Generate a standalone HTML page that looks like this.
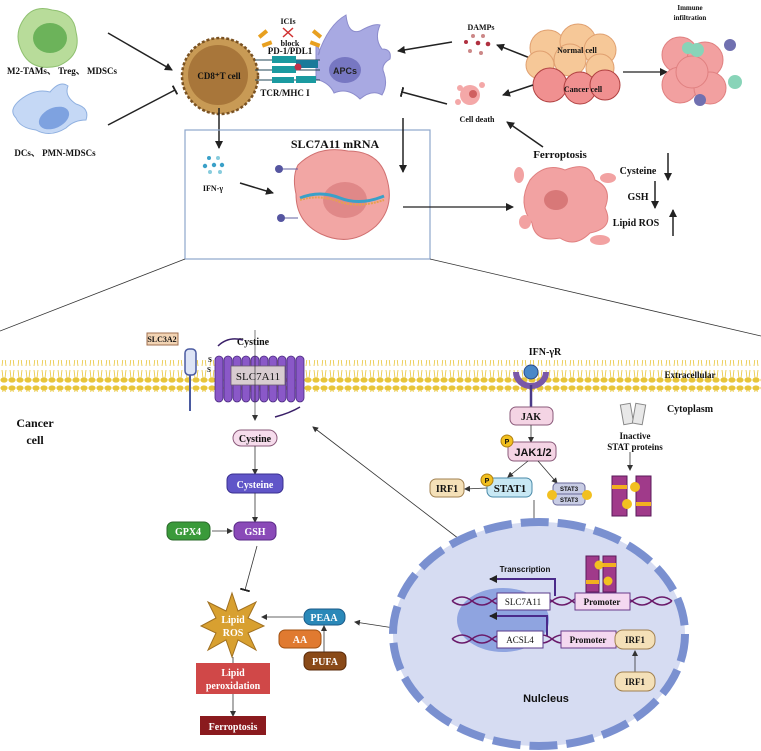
<!DOCTYPE html>
<html><head><meta charset="utf-8"><style>
html,body{margin:0;padding:0;background:#fff}
svg{display:block}
text{font-family:"Liberation Serif",serif;font-weight:bold;fill:#111}
.s{font-family:"Liberation Sans",sans-serif}
</style></head><body>
<svg width="761" height="751" viewBox="0 0 761 751" xmlns="http://www.w3.org/2000/svg">
<defs>
<marker id="a" markerWidth="8" markerHeight="8" refX="7" refY="4" orient="auto" markerUnits="userSpaceOnUse"><path d="M0,0L8,4L0,8z" fill="#222"/></marker>
<marker id="as" markerWidth="6" markerHeight="6" refX="5" refY="3" orient="auto" markerUnits="userSpaceOnUse"><path d="M0,0L6,3L0,6z" fill="#333"/></marker>
<marker id="t" markerWidth="2" markerHeight="10" refX="1" refY="5" orient="auto" markerUnits="userSpaceOnUse"><rect width="2" height="10" fill="#222"/></marker>
<pattern id="mem" x="0" y="0" width="8" height="32" patternUnits="userSpaceOnUse">
<ellipse cx="4" cy="4" rx="3.6" ry="2.6" fill="#e8c53a"/>
<ellipse cx="4" cy="28" rx="3.6" ry="2.6" fill="#e8c53a"/>
<path d="M3,6 L2,14 M5,6 L6,14 M3,26 L2,18 M5,26 L6,18" stroke="#e8c53a" stroke-width="0.8"/>
</pattern>
</defs>

<!-- TOP SECTION -->
<!-- M2 cell -->
<path d="M22,22 q10,-18 30,-12 q22,2 24,22 q6,24 -18,34 q-26,6 -36,-14 q-8,-16 0,-30z" fill="#b8dc9a" stroke="#8fc070"/>
<ellipse cx="50" cy="38" rx="17" ry="15" fill="#6cb35a"/>
<text x="62" y="74" font-size="9" text-anchor="middle">M2-TAMs、 Treg、 MDSCs</text>
<!-- DC cell -->
<path d="M20,100 q15,-12 30,-8 q10,-12 18,-6 q-4,10 8,18 q14,4 10,16 q-12,0 -20,8 q-16,10 -30,2 q-16,-2 -20,-12 q-8,-8 4,-18z" fill="#c5d8f5" stroke="#8fb0e0"/>
<ellipse cx="54" cy="118" rx="16" ry="10" fill="#7ea2e0" transform="rotate(-25 54 118)"/>
<text x="55" y="156" font-size="9" text-anchor="middle">DCs、 PMN-MDSCs</text>
<line x1="108" y1="33" x2="172" y2="70" stroke="#222" stroke-width="1.5" marker-end="url(#a)"/>
<line x1="108" y1="125" x2="175" y2="90" stroke="#222" stroke-width="1.5" marker-end="url(#t)"/>
<!-- CD8 T -->
<circle cx="220" cy="76" r="38" fill="#c89a55" stroke="#7a5222" stroke-width="2.5" stroke-dasharray="3 2"/>
<circle cx="218" cy="75" r="30" fill="#a8763a"/>
<text x="219" y="79" font-size="9" text-anchor="middle" fill="#fff">CD8⁺T cell</text>
<!-- APCs -->
<path d="M318,55 q10,-30 28,-40 q2,20 14,16 q14,-8 20,-6 q-6,14 2,24 q10,0 8,10 q-10,6 -6,14 q4,12 -2,22 q-10,-6 -22,4 q-12,-12 -26,-6 q-4,-10 -18,-14 l0,-34 q6,6 2,10z" fill="#a8a9e2" stroke="#8c8ccc"/>
<ellipse cx="345" cy="70" rx="16" ry="13" fill="#7777c2"/>
<text x="345" y="74" font-size="9" text-anchor="middle" class="s" fill="#fff" style="fill:#222">APCs</text>
<!-- receptors -->
<line x1="255" y1="60" x2="320" y2="60" stroke="#245" stroke-width="1"/>
<line x1="255" y1="70" x2="320" y2="70" stroke="#245" stroke-width="1"/>
<line x1="255" y1="80" x2="320" y2="80" stroke="#245" stroke-width="1"/>
<rect x="272" y="56" width="24" height="7" fill="#1a9aa0"/><rect x="272" y="66" width="24" height="7" fill="#1a9aa0"/>
<rect x="296" y="60" width="22" height="8" fill="#1a7a9a"/><circle cx="298" cy="67" r="3.5" fill="#c0304a"/>
<rect x="272" y="77" width="22" height="6" fill="#1a9aa0"/><rect x="296" y="76" width="20" height="7" fill="#1a9aa0"/>
<text x="290" y="54" font-size="9" text-anchor="middle">PD-1/PDL1</text>
<text x="285" y="96" font-size="9" text-anchor="middle">TCR/MHC I</text>
<text x="288" y="24" font-size="8" text-anchor="middle">ICIs</text>
<path d="M283,28 l10,9 M293,28 l-10,9" stroke="#d03030" stroke-width="1.5"/>
<text x="290" y="46" font-size="8" text-anchor="middle">block</text>
<g fill="#e8a020"><rect x="258" y="32" width="10" height="4" transform="rotate(-40 263 34)"/><rect x="262" y="42" width="10" height="4" transform="rotate(-20 267 44)"/><rect x="312" y="32" width="10" height="4" transform="rotate(40 317 34)"/><rect x="310" y="42" width="10" height="4" transform="rotate(20 315 44)"/></g>
<line x1="219" y1="108" x2="219" y2="148" stroke="#222" stroke-width="1.5" marker-end="url(#a)"/>
<!-- box -->
<rect x="185" y="130" width="245" height="129" fill="none" stroke="#8ea6cc" stroke-width="1.2"/>
<text x="335" y="148" font-size="12" text-anchor="middle">SLC7A11 mRNA</text>
<g fill="#3aa0c8"><circle cx="209" cy="158" r="2"/><circle cx="218" cy="158" r="2" fill="#8cd"/><circle cx="205" cy="166" r="2.2"/><circle cx="214" cy="165" r="2.2"/><circle cx="222" cy="165" r="2.2"/><circle cx="210" cy="172" r="2" fill="#8cd"/><circle cx="220" cy="172" r="2" fill="#8cd"/></g>
<text x="213" y="191" font-size="8" text-anchor="middle">IFN-γ</text>
<line x1="240" y1="183" x2="273" y2="193" stroke="#222" stroke-width="1.5" marker-end="url(#a)"/>
<path d="M298,165 q20,-20 50,-14 q30,0 38,25 q10,30 -10,50 q-25,22 -55,8 q-25,-12 -25,-40 q-4,-18 2,-29z" fill="#f2a6a4" stroke="#d07070"/>
<ellipse cx="345" cy="200" rx="22" ry="18" fill="#e08888"/>
<path d="M300,198 q20,-8 40,0 q20,8 44,-2" stroke="#3aa0c8" stroke-width="3" fill="none"/>
<path d="M300,200 q20,-6 40,2 q20,6 44,-2" stroke="#e8a050" stroke-width="2" fill="none" stroke-dasharray="2 1"/>
<path d="M280,169 h18 M280,218 h18" stroke="#6060a0" stroke-width="1"/>
<circle cx="279" cy="169" r="4" fill="#5555a0"/><circle cx="281" cy="218" r="4" fill="#5555a0"/>
<line x1="403" y1="207" x2="513" y2="207" stroke="#222" stroke-width="1.3" marker-end="url(#a)"/>
<line x1="403" y1="118" x2="403" y2="172" stroke="#222" stroke-width="1.5" marker-end="url(#a)"/>
<!-- right top -->
<text x="481" y="30" font-size="8" text-anchor="middle">DAMPs</text>
<g fill="#b03040"><circle cx="473" cy="36" r="2" fill="#c88"/><circle cx="483" cy="36" r="2" fill="#c88"/><circle cx="466" cy="42" r="2"/><circle cx="478" cy="43" r="2.3"/><circle cx="488" cy="44" r="2.3"/><circle cx="470" cy="51" r="2" fill="#c88"/><circle cx="481" cy="53" r="2" fill="#c88"/></g>
<line x1="452" y1="42" x2="398" y2="51" stroke="#222" stroke-width="1.5" marker-end="url(#a)"/>
<line x1="530" y1="58" x2="497" y2="45" stroke="#222" stroke-width="1.5" marker-end="url(#a)"/>
<g fill="#f6c898" stroke="#e0a070"><circle cx="548" cy="48" r="18"/><circle cx="578" cy="42" r="18"/><circle cx="600" cy="50" r="16"/><circle cx="540" cy="65" r="14"/><circle cx="570" cy="60" r="16"/><circle cx="600" cy="68" r="14"/></g>
<g fill="#f09090" stroke="#b04040"><circle cx="550" cy="85" r="17"/><circle cx="580" cy="88" r="16"/><circle cx="605" cy="85" r="15"/></g>
<text x="577" y="53" font-size="8" text-anchor="middle">Normal cell</text>
<text x="583" y="92" font-size="8" text-anchor="middle">Cancer cell</text>
<line x1="623" y1="72" x2="667" y2="72" stroke="#222" stroke-width="1.3" marker-end="url(#a)"/>
<text x="690" y="10" font-size="7" text-anchor="middle">Immune</text>
<text x="690" y="20" font-size="7" text-anchor="middle">infiltration</text>
<g fill="#f2a0a0" stroke="#e08080"><circle cx="680" cy="55" r="18"/><circle cx="705" cy="60" r="18"/><circle cx="680" cy="85" r="18"/><circle cx="710" cy="88" r="16"/><circle cx="692" cy="72" r="16"/></g>
<circle cx="697" cy="50" r="7" fill="#88d4b8"/><circle cx="730" cy="45" r="6" fill="#7070b0"/><circle cx="735" cy="82" r="7" fill="#88d4b8"/><circle cx="700" cy="100" r="6" fill="#7070b0"/><circle cx="688" cy="48" r="6" fill="#88d4b8"/>
<g fill="#f4a8a8"><circle cx="470" cy="95" r="10"/><circle cx="460" cy="88" r="3"/><circle cx="482" cy="85" r="3"/><circle cx="458" cy="102" r="3"/></g>
<circle cx="473" cy="94" r="4" fill="#d06060"/>
<text x="477" y="122" font-size="8" text-anchor="middle">Cell death</text>
<line x1="533" y1="85" x2="503" y2="95" stroke="#222" stroke-width="1.5" marker-end="url(#a)"/>
<line x1="447" y1="104" x2="402" y2="92" stroke="#222" stroke-width="1.5" marker-end="url(#t)"/>
<line x1="543" y1="147" x2="507" y2="122" stroke="#222" stroke-width="1.5" marker-end="url(#a)"/>
<text x="560" y="158" font-size="11" text-anchor="middle">Ferroptosis</text>
<path d="M530,180 q15,-18 35,-10 q25,-10 30,10 q18,8 10,28 q10,20 -15,25 q-15,15 -30,5 q-25,5 -28,-15 q-15,-20 -2,-43z" fill="#f2a2a2" stroke="#e08080"/>
<ellipse cx="556" cy="200" rx="12" ry="10" fill="#d87878"/>
<g fill="#f2a2a2"><ellipse cx="519" cy="175" rx="5" ry="8"/><ellipse cx="608" cy="178" rx="8" ry="5"/><ellipse cx="600" cy="240" rx="10" ry="5"/><ellipse cx="525" cy="222" rx="6" ry="7"/></g>
<text x="638" y="174" font-size="10" text-anchor="middle">Cysteine</text>
<text x="638" y="200" font-size="10" text-anchor="middle">GSH</text>
<text x="636" y="226" font-size="10" text-anchor="middle">Lipid ROS</text>
<line x1="668" y1="153" x2="668" y2="180" stroke="#222" stroke-width="1.5" marker-end="url(#a)"/>
<line x1="655" y1="181" x2="655" y2="208" stroke="#222" stroke-width="1.5" marker-end="url(#a)"/>
<line x1="673" y1="236" x2="673" y2="210" stroke="#222" stroke-width="1.5" marker-end="url(#a)"/>
<!-- zoom lines -->
<line x1="185" y1="259" x2="0" y2="331" stroke="#333" stroke-width="0.8"/>
<line x1="430" y1="259" x2="761" y2="336" stroke="#333" stroke-width="0.8"/>

<!-- MEMBRANE -->
<rect x="0" y="360" width="761" height="32" fill="url(#mem)"/>
<text x="690" y="378" font-size="9" text-anchor="middle">Extracellular</text>
<text x="690" y="412" font-size="10" text-anchor="middle">Cytoplasm</text>
<text x="35" y="427" font-size="12" text-anchor="middle">Cancer</text>
<text x="35" y="444" font-size="12" text-anchor="middle">cell</text>
<text x="253" y="345" font-size="10" text-anchor="middle">Cystine</text>
<rect x="147" y="333" width="31" height="12" fill="#f2d4b4" stroke="#a07050"/>
<text x="162" y="342" font-size="8" text-anchor="middle">SLC3A2</text>
<rect x="185" y="349" width="11" height="26" rx="4" fill="#dde4f6" stroke="#4a5aa0" stroke-width="1.5"/>
<line x1="190" y1="375" x2="190" y2="411" stroke="#4a5aa0" stroke-width="2"/>
<text x="210" y="362" font-size="7" text-anchor="middle">S</text><text x="209" y="372" font-size="7" text-anchor="middle">S</text>
<g fill="#8a58c8" stroke="#4a2a80" stroke-width="0.8">
<rect x="215" y="356" width="8" height="46" rx="4"/><rect x="224" y="356" width="8" height="46" rx="4"/><rect x="233" y="356" width="8" height="46" rx="4"/><rect x="242" y="356" width="8" height="46" rx="4"/><rect x="251" y="356" width="8" height="46" rx="4"/><rect x="260" y="356" width="8" height="46" rx="4"/><rect x="269" y="356" width="8" height="46" rx="4"/><rect x="278" y="356" width="8" height="46" rx="4"/><rect x="287" y="356" width="8" height="46" rx="4"/><rect x="296" y="356" width="8" height="46" rx="4"/>
</g>
<path d="M218,346 q10,-10 25,-6 M275,417 q15,-4 25,-10" stroke="#3a2068" stroke-width="1.5" fill="none"/>
<rect x="231" y="366" width="54" height="19" fill="#d8ccd0" stroke="#6a5a70" stroke-width="0.8"/>
<text x="258" y="380" font-size="11" text-anchor="middle" style="font-weight:normal">SLC7A11</text>
<line x1="255" y1="330" x2="255" y2="420" stroke="#222" stroke-width="0.6" marker-end="url(#as)"/>
<text x="545" y="355" font-size="10" text-anchor="middle">IFN-γR</text>
<path d="M516,372 a15,14 0 0 0 30,0" stroke="#7a58a8" stroke-width="6" fill="none"/>
<circle cx="531" cy="372" r="7" fill="#4a88c8" stroke="#2a4a88"/>
<line x1="531" y1="385" x2="531" y2="408" stroke="#4a3a88" stroke-width="2.5"/>

<!-- LOWER LEFT -->
<rect x="233" y="430" width="44" height="16" rx="8" fill="#f6dcec" stroke="#8a5a7a"/>
<text x="255" y="442" font-size="10" text-anchor="middle">Cystine</text>
<line x1="255" y1="446" x2="255" y2="474" stroke="#333" stroke-width="0.8" marker-end="url(#as)"/>
<rect x="227" y="474" width="56" height="19" rx="6" fill="#6055c8" stroke="#3a3090"/>
<text x="255" y="488" font-size="10" text-anchor="middle" style="fill:#fff">Cysteine</text>
<line x1="255" y1="493" x2="255" y2="522" stroke="#333" stroke-width="0.8" marker-end="url(#as)"/>
<rect x="234" y="522" width="42" height="18" rx="6" fill="#8a4ab8" stroke="#5a2a88"/>
<text x="255" y="535" font-size="10" text-anchor="middle" style="fill:#fff">GSH</text>
<rect x="167" y="522" width="43" height="18" rx="6" fill="#3a9a3a" stroke="#2a6a2a"/>
<text x="188" y="535" font-size="10" text-anchor="middle" style="fill:#fff">GPX4</text>
<line x1="212" y1="531" x2="232" y2="531" stroke="#333" stroke-width="0.8" marker-end="url(#as)"/>
<line x1="257" y1="546" x2="245" y2="590" stroke="#333" stroke-width="0.8" marker-end="url(#t)"/>
<polygon points="232,593 238,611 256,602 248,618 264,626 248,633 256,650 238,640 232,657 226,640 208,650 216,633 201,626 216,618 208,602 226,611" fill="#d8a030" stroke="#a07020"/>
<text x="233" y="623" font-size="10" text-anchor="middle" style="fill:#fff">Lipid</text>
<text x="233" y="636" font-size="10" text-anchor="middle" style="fill:#fff">ROS</text>
<rect x="304" y="609" width="41" height="16" rx="7" fill="#2a88b8" stroke="#1a5a88"/>
<text x="324" y="621" font-size="10" text-anchor="middle" style="fill:#fff">PEAA</text>
<line x1="303" y1="617" x2="262" y2="617" stroke="#333" stroke-width="0.8" marker-end="url(#as)"/>
<rect x="279" y="630" width="42" height="18" rx="6" fill="#e07a30" stroke="#a05010"/>
<text x="300" y="643" font-size="10" text-anchor="middle" style="fill:#fff">AA</text>
<rect x="304" y="652" width="42" height="18" rx="6" fill="#8a4a18" stroke="#5a2a08"/>
<text x="325" y="665" font-size="10" text-anchor="middle" style="fill:#fff">PUFA</text>
<line x1="324" y1="652" x2="324" y2="626" stroke="#333" stroke-width="0.8" marker-end="url(#as)"/>
<line x1="233" y1="657" x2="233" y2="663" stroke="#333" stroke-width="0.8"/>
<rect x="196" y="663" width="74" height="31" fill="#d04848"/>
<text x="233" y="676" font-size="10" text-anchor="middle" style="fill:#fff">Lipid</text>
<text x="233" y="689" font-size="10" text-anchor="middle" style="fill:#fff">peroxidation</text>
<line x1="233" y1="694" x2="233" y2="716" stroke="#333" stroke-width="0.8" marker-end="url(#as)"/>
<rect x="200" y="716" width="66" height="19" fill="#8a1a1e"/>
<text x="233" y="730" font-size="10" text-anchor="middle" style="fill:#fff">Ferroptosis</text>
<!-- long lines to nucleus -->
<line x1="480" y1="555" x2="313" y2="427" stroke="#333" stroke-width="0.8" marker-end="url(#as)"/>
<line x1="453" y1="637" x2="355" y2="622" stroke="#333" stroke-width="0.8" marker-end="url(#as)"/>

<!-- LOWER RIGHT -->
<rect x="510" y="407" width="43" height="18" rx="6" fill="#f4d4e4" stroke="#8a5a7a"/>
<text x="531" y="420" font-size="10" text-anchor="middle">JAK</text>
<line x1="531" y1="425" x2="531" y2="442" stroke="#333" stroke-width="0.8" marker-end="url(#as)"/>
<rect x="508" y="442" width="48" height="19" rx="6" fill="#f4d4e4" stroke="#8a5a7a"/>
<text x="533" y="456" font-size="11" text-anchor="middle" class="s">JAK1/2</text>
<circle cx="507" cy="441" r="6" fill="#f2c020" stroke="#b08010"/><text x="507" y="444" font-size="7" text-anchor="middle" class="s">P</text>
<line x1="528" y1="461" x2="508" y2="477" stroke="#333" stroke-width="0.8" marker-end="url(#as)"/>
<line x1="538" y1="461" x2="557" y2="483" stroke="#333" stroke-width="0.8" marker-end="url(#as)"/>
<rect x="487" y="478" width="45" height="19" rx="6" fill="#c8e8f4" stroke="#4a8aa8"/>
<text x="510" y="492" font-size="11" text-anchor="middle">STAT1</text>
<circle cx="487" cy="480" r="6" fill="#f2c020" stroke="#b08010"/><text x="487" y="483" font-size="7" text-anchor="middle" class="s">P</text>
<line x1="487" y1="488" x2="465" y2="489" stroke="#333" stroke-width="0.8" marker-end="url(#as)"/>
<rect x="430" y="479" width="34" height="18" rx="6" fill="#f4e0b8" stroke="#a08050"/>
<text x="447" y="492" font-size="10" text-anchor="middle">IRF1</text>
<rect x="553" y="483" width="32" height="11" rx="4" fill="#c8cce4" stroke="#6a6a9a"/><text x="569" y="491" font-size="6" text-anchor="middle" class="s">STAT3</text>
<rect x="553" y="494" width="32" height="11" rx="4" fill="#c8cce4" stroke="#6a6a9a"/><text x="569" y="502" font-size="6" text-anchor="middle" class="s">STAT3</text>
<circle cx="552" cy="495" r="5" fill="#f2c020"/><circle cx="587" cy="495" r="5" fill="#f2c020"/>
<rect x="622" y="404" width="10" height="20" fill="#e8e8e8" stroke="#888" transform="rotate(-10 627 414)"/><rect x="634" y="404" width="10" height="20" fill="#e8e8e8" stroke="#888" transform="rotate(10 639 414)"/>
<text x="635" y="439" font-size="9" text-anchor="middle">Inactive</text>
<text x="635" y="450" font-size="9" text-anchor="middle">STAT proteins</text>
<line x1="630" y1="452" x2="630" y2="470" stroke="#333" stroke-width="0.8" marker-end="url(#as)"/>
<rect x="612" y="476" width="15" height="40" fill="#a03a8a" stroke="#5a1a5a"/><rect x="636" y="476" width="15" height="40" fill="#a03a8a" stroke="#5a1a5a"/>
<rect x="612" y="485" width="15" height="4" fill="#f2b020"/><rect x="636" y="502" width="15" height="4" fill="#f2b020"/>
<circle cx="635" cy="487" r="5" fill="#f2c020"/><circle cx="627" cy="504" r="5" fill="#f2c020"/>
<line x1="534" y1="500" x2="534" y2="552" stroke="#333" stroke-width="0.8" marker-end="url(#as)"/>
<!-- nucleus -->
<ellipse cx="539" cy="634" rx="146" ry="112" fill="#d6dcf2"/>
<ellipse cx="539" cy="634" rx="146" ry="112" fill="none" stroke="#7a90d0" stroke-width="8" stroke-dasharray="28 9"/>
<ellipse cx="503" cy="620" rx="46" ry="32" fill="#8fa4e0"/>
<text x="525" y="572" font-size="8" text-anchor="middle" class="s">Transcription</text>
<path d="M555,596 V579 H490" stroke="#4a2a8a" stroke-width="2" fill="none" marker-end="url(#a)"/>
<path d="M547,636 V616 H490" stroke="#4a2a8a" stroke-width="2" fill="none" marker-end="url(#a)"/>
<path d="M452,601 q10,-8 20,0 t20,0 t20,0 t20,0 t20,0 t20,0 t20,0 t20,0 t20,0 t20,0 t20,0 M452,601 q10,8 20,0 t20,0 t20,0 t20,0 t20,0 t20,0 t20,0 t20,0 t20,0 t20,0 t20,0" stroke="#6a1a6a" stroke-width="1.5" fill="none"/>
<path d="M452,639 q10,-8 20,0 t20,0 t20,0 t20,0 t20,0 t20,0 t20,0 t20,0 M452,639 q10,8 20,0 t20,0 t20,0 t20,0 t20,0 t20,0 t20,0 t20,0" stroke="#6a1a6a" stroke-width="1.5" fill="none"/>
<rect x="497" y="593" width="53" height="17" fill="#fff" stroke="#5a3a8a"/>
<text x="523" y="605" font-size="9" text-anchor="middle" style="font-weight:normal">SLC7A11</text>
<rect x="575" y="593" width="55" height="17" fill="#f4d8f0" stroke="#6a3a8a"/>
<text x="602" y="605" font-size="9" text-anchor="middle">Promoter</text>
<rect x="586" y="556" width="13" height="36" fill="#a03a8a" stroke="#5a1a5a"/><rect x="603" y="556" width="13" height="36" fill="#a03a8a" stroke="#5a1a5a"/>
<rect x="603" y="563" width="13" height="4" fill="#f2b020"/><rect x="586" y="580" width="13" height="4" fill="#f2b020"/>
<circle cx="599" cy="565" r="4.5" fill="#f2c020"/><circle cx="608" cy="581" r="4.5" fill="#f2c020"/>
<rect x="497" y="631" width="46" height="17" fill="#fff" stroke="#5a3a8a"/>
<text x="520" y="643" font-size="9" text-anchor="middle" style="font-weight:normal">ACSL4</text>
<rect x="561" y="631" width="55" height="17" fill="#f4d8f0" stroke="#6a3a8a"/>
<text x="588" y="643" font-size="9" text-anchor="middle">Promoter</text>
<rect x="615" y="630" width="40" height="19" rx="8" fill="#f4e0b8" stroke="#a08050"/>
<text x="635" y="643" font-size="9" text-anchor="middle">IRF1</text>
<line x1="635" y1="672" x2="635" y2="651" stroke="#333" stroke-width="0.8" marker-end="url(#as)"/>
<rect x="615" y="672" width="40" height="19" rx="8" fill="#f4e0b8" stroke="#a08050"/>
<text x="635" y="685" font-size="9" text-anchor="middle">IRF1</text>
<text x="546" y="702" font-size="11" text-anchor="middle" class="s">Nulcleus</text>
</svg>
</body></html>
